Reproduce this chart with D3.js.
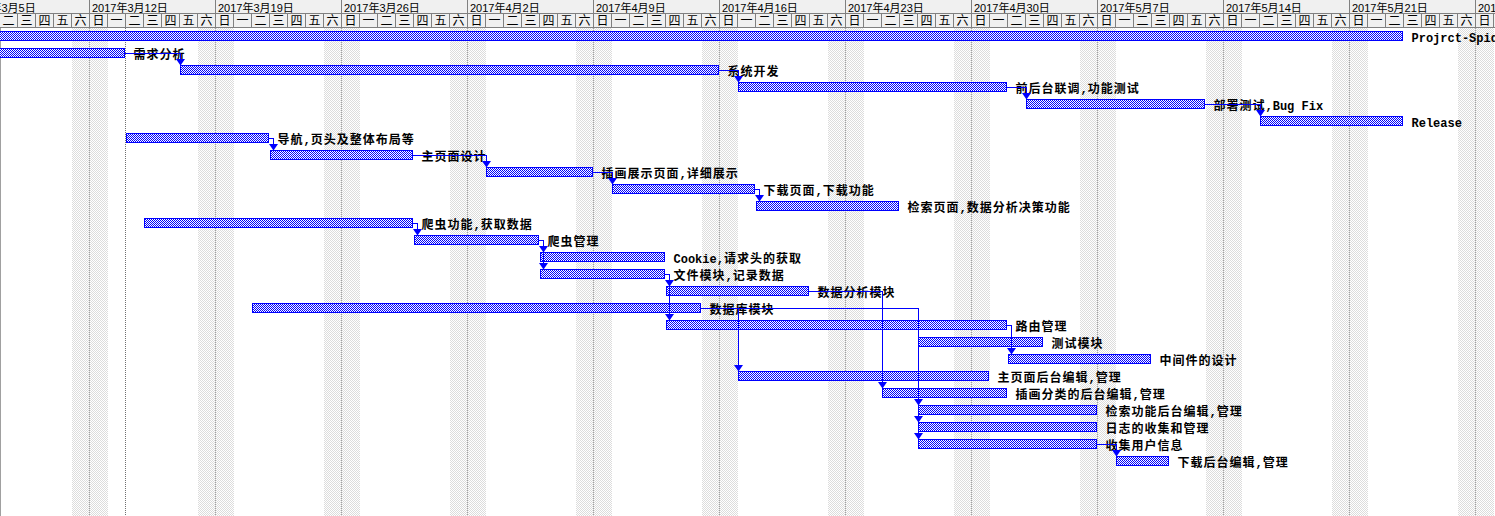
<!DOCTYPE html>
<html><head><meta charset="utf-8">
<script src="https://cdn.jsdelivr.net/npm/d3@7"></script>
<style>html,body{margin:0;padding:0;background:#fff;overflow:hidden}
rect,line{shape-rendering:crispEdges}</style>
</head><body><svg id="c" width="1495" height="516"></svg>
<script>
const taskNames = [
  "Projrct-Spider","需求分析","系统开发","前后台联调,功能测试","部署测试,Bug Fix","Release",
  "导航,页头及整体布局等","主页面设计","插画展示页面,详细展示","下载页面,下载功能","检索页面,数据分析决策功能",
  "爬虫功能,获取数据","爬虫管理","Cookie,请求头的获取","文件模块,记录数据","数据分析模块","数据库模块",
  "路由管理","测试模块","中间件的设计","主页面后台编辑,管理","插画分类的后台编辑,管理",
  "检索功能后台编辑,管理","日志的收集和管理","收集用户信息","下载后台编辑,管理"
];
const taskStarts = [
  "2017-03-06","2017-03-06","2017-03-17","2017-04-17","2017-05-03","2017-05-16",
  "2017-03-14","2017-03-22","2017-04-03","2017-04-10","2017-04-18",
  "2017-03-15","2017-03-30","2017-04-06","2017-04-06","2017-04-13","2017-03-21",
  "2017-04-13","2017-04-27","2017-05-02","2017-04-17","2017-04-25",
  "2017-04-27","2017-04-27","2017-04-27","2017-05-08"
];
const taskEnds = [
  "2017-05-24","2017-03-14","2017-04-16","2017-05-02","2017-05-13","2017-05-24",
  "2017-03-22","2017-03-30","2017-04-09","2017-04-18","2017-04-26",
  "2017-03-30","2017-04-06","2017-04-13","2017-04-13","2017-04-21","2017-04-15",
  "2017-05-02","2017-05-04","2017-05-10","2017-05-01","2017-05-02",
  "2017-05-07","2017-05-07","2017-05-07","2017-05-11"
];
// finish-to-start links: [predecessor, successor]
const links = [
  [1,2],[2,3],[3,4],[4,5],[6,7],[7,8],[8,9],[9,10],[11,12],[12,13],[12,14],
  [14,15],[14,17],[15,21],[16,20],[16,22],[16,23],[16,24],[17,19],[24,25]
];
const dayNames = ["日","一","二","三","四","五","六"];
const currentDate = "2017-03-14";
const viewStart = "2017-03-05", viewEnd = "2017-06-04";

const W = 1495, H = 516;
const parse = d3.utcParse("%Y-%m-%d");
const weekFmt = d3.utcFormat("%Y年%-m月%-d日");
const nDays = d3.utcDay.count(parse(viewStart), parse(viewEnd));
const x = d3.scaleUtc().domain([parse(viewStart), parse(viewEnd)]).range([-37, -37 + nDays * 18]);
const rowTop = d3.scaleLinear().domain([0, 1]).range([31, 48]);

const svg = d3.select("#c");
const defs = svg.append("defs");
function checker(id, color) {
  const p = defs.append("pattern").attr("id", id).attr("width", 2).attr("height", 2)
    .attr("patternUnits", "userSpaceOnUse");
  p.append("rect").attr("width", 2).attr("height", 2).attr("fill", "#fff");
  p.append("rect").attr("x", 0).attr("y", 0).attr("width", 1).attr("height", 1).attr("fill", color);
  p.append("rect").attr("x", 1).attr("y", 1).attr("width", 1).attr("height", 1).attr("fill", color);
}
checker("hatch", "#0000ff");
checker("wkend", "#dcdcdc");

const days = d3.utcDay.range(parse(viewStart), parse(viewEnd));
const weeks = d3.utcSunday.range(parse(viewStart), parse(viewEnd));
const hdr1 = 13, hdr2 = 27;

svg.append("rect").attr("width", W).attr("height", H).attr("fill", "#fff");

// weekend shading (Saturday + Sunday)
svg.append("g").selectAll("rect").data(days.filter(d => d.getUTCDay() === 0 || d.getUTCDay() === 6))
  .join("rect")
  .attr("x", d => x(d) + 1).attr("y", hdr2 + 1)
  .attr("width", d => x(d3.utcDay.offset(d, 1)) - x(d))
  .attr("height", H - hdr2)
  .attr("fill", "url(#wkend)");

// week gridlines
svg.append("g").selectAll("line").data(weeks).join("line")
  .attr("x1", d => x(d) + 0.5).attr("x2", d => x(d) + 0.5)
  .attr("y1", hdr2 + 1).attr("y2", H)
  .attr("stroke", "#a0a0a0").attr("stroke-dasharray", "1,1");

// current date line
svg.append("line")
  .attr("x1", x(parse(currentDate)) + 0.5).attr("x2", x(parse(currentDate)) + 0.5)
  .attr("y1", hdr2 + 1).attr("y2", H)
  .attr("stroke", "#707070").attr("stroke-dasharray", "1,1");

// left border
svg.append("line").attr("x1", 0.5).attr("x2", 0.5).attr("y1", hdr2).attr("y2", H).attr("stroke", "#a0a0a0");

// header
const hg = svg.append("g");
hg.append("rect").attr("x", 0).attr("y", 0).attr("width", W).attr("height", hdr2).attr("fill", "#f0f0f0");
hg.selectAll("line.w").data(weeks).join("line")
  .attr("x1", d => x(d) + 0.5).attr("x2", d => x(d) + 0.5).attr("y1", 0).attr("y2", hdr1)
  .attr("stroke", "#808080");
hg.selectAll("line.d").data(days).join("line")
  .attr("x1", d => x(d) + 0.5).attr("x2", d => x(d) + 0.5).attr("y1", hdr1).attr("y2", hdr2)
  .attr("stroke", "#808080");
hg.append("line").attr("x1", 0).attr("x2", W).attr("y1", hdr1 + 0.5).attr("y2", hdr1 + 0.5).attr("stroke", "#808080");
hg.append("line").attr("x1", 0).attr("x2", W).attr("y1", hdr2 + 0.5).attr("y2", hdr2 + 0.5).attr("stroke", "#808080");
hg.selectAll("text.w").data(weeks).join("text")
  .attr("x", d => x(d) + 3).attr("y", 11.5)
  .attr("font-family", "'Liberation Sans','Noto Sans CJK SC'").attr("font-size", 11)
  .attr("fill", "#000").text(d => weekFmt(d));
hg.selectAll("text.d").data(days).join("text")
  .attr("x", d => x(d) + 9.5).attr("y", 25).attr("text-anchor", "middle")
  .attr("font-family", "'Noto Sans CJK SC'").attr("font-size", 12)
  .attr("fill", "#000").text(d => dayNames[d.getUTCDay()]);

// bars
const tasks = taskNames.map((n, i) => ({ i, name: n, s: parse(taskStarts[i]), e: parse(taskEnds[i]) }));
svg.append("g").selectAll("rect").data(tasks).join("rect")
  .attr("x", d => x(d.s) + 1.5).attr("y", d => rowTop(d.i) + 0.5)
  .attr("width", d => x(d.e) - x(d.s) - 2).attr("height", 9)
  .attr("fill", "url(#hatch)").attr("stroke", "#0000ff").attr("stroke-width", 1);

// labels (CJK runs get the wider bold-bitmap advance)
const runRe = /[\u3000-\u9fff\uff00-\uffef]+|[^\u3000-\u9fff\uff00-\uffef]+/g;
const lbl = svg.append("g").selectAll("text").data(tasks).join("text")
  .attr("x", d => x(d.e) + 8.5).attr("y", d => rowTop(d.i) + 10.5)
  .attr("font-family", "'Liberation Mono','Noto Sans CJK SC'").attr("font-weight", "bold")
  .attr("font-size", 12).attr("fill", "#000");
lbl.selectAll("tspan").data(d => d.name.match(runRe)).join("tspan")
  .attr("letter-spacing", r => /[\u3000-\u9fff]/.test(r) ? 1 : 0)
  .text(r => r);

// links
const lg = svg.append("g");
links.forEach(([p, s]) => {
  const tp = tasks[p], ts = tasks[s];
  const pe = x(tp.e), ss = x(ts.s);
  const vpx = Math.max(ss + 1, pe + 4);
  const vx = vpx + 0.5;
  const yc = rowTop(p) + 5.5;
  const top = rowTop(s);
  lg.append("path")
    .attr("d", `M${pe - 1},${yc}H${vx}V${top - 5}`)
    .attr("fill", "none").attr("stroke", "#0000ff").attr("stroke-width", 1)
    .attr("shape-rendering", "crispEdges");
  lg.append("path")
    .attr("d", `M${vx - 4.5},${top - 6}H${vx + 4.5}L${vx},${top + 0.5}Z`)
    .attr("fill", "#0000ff");
});
</script>
</body></html>
